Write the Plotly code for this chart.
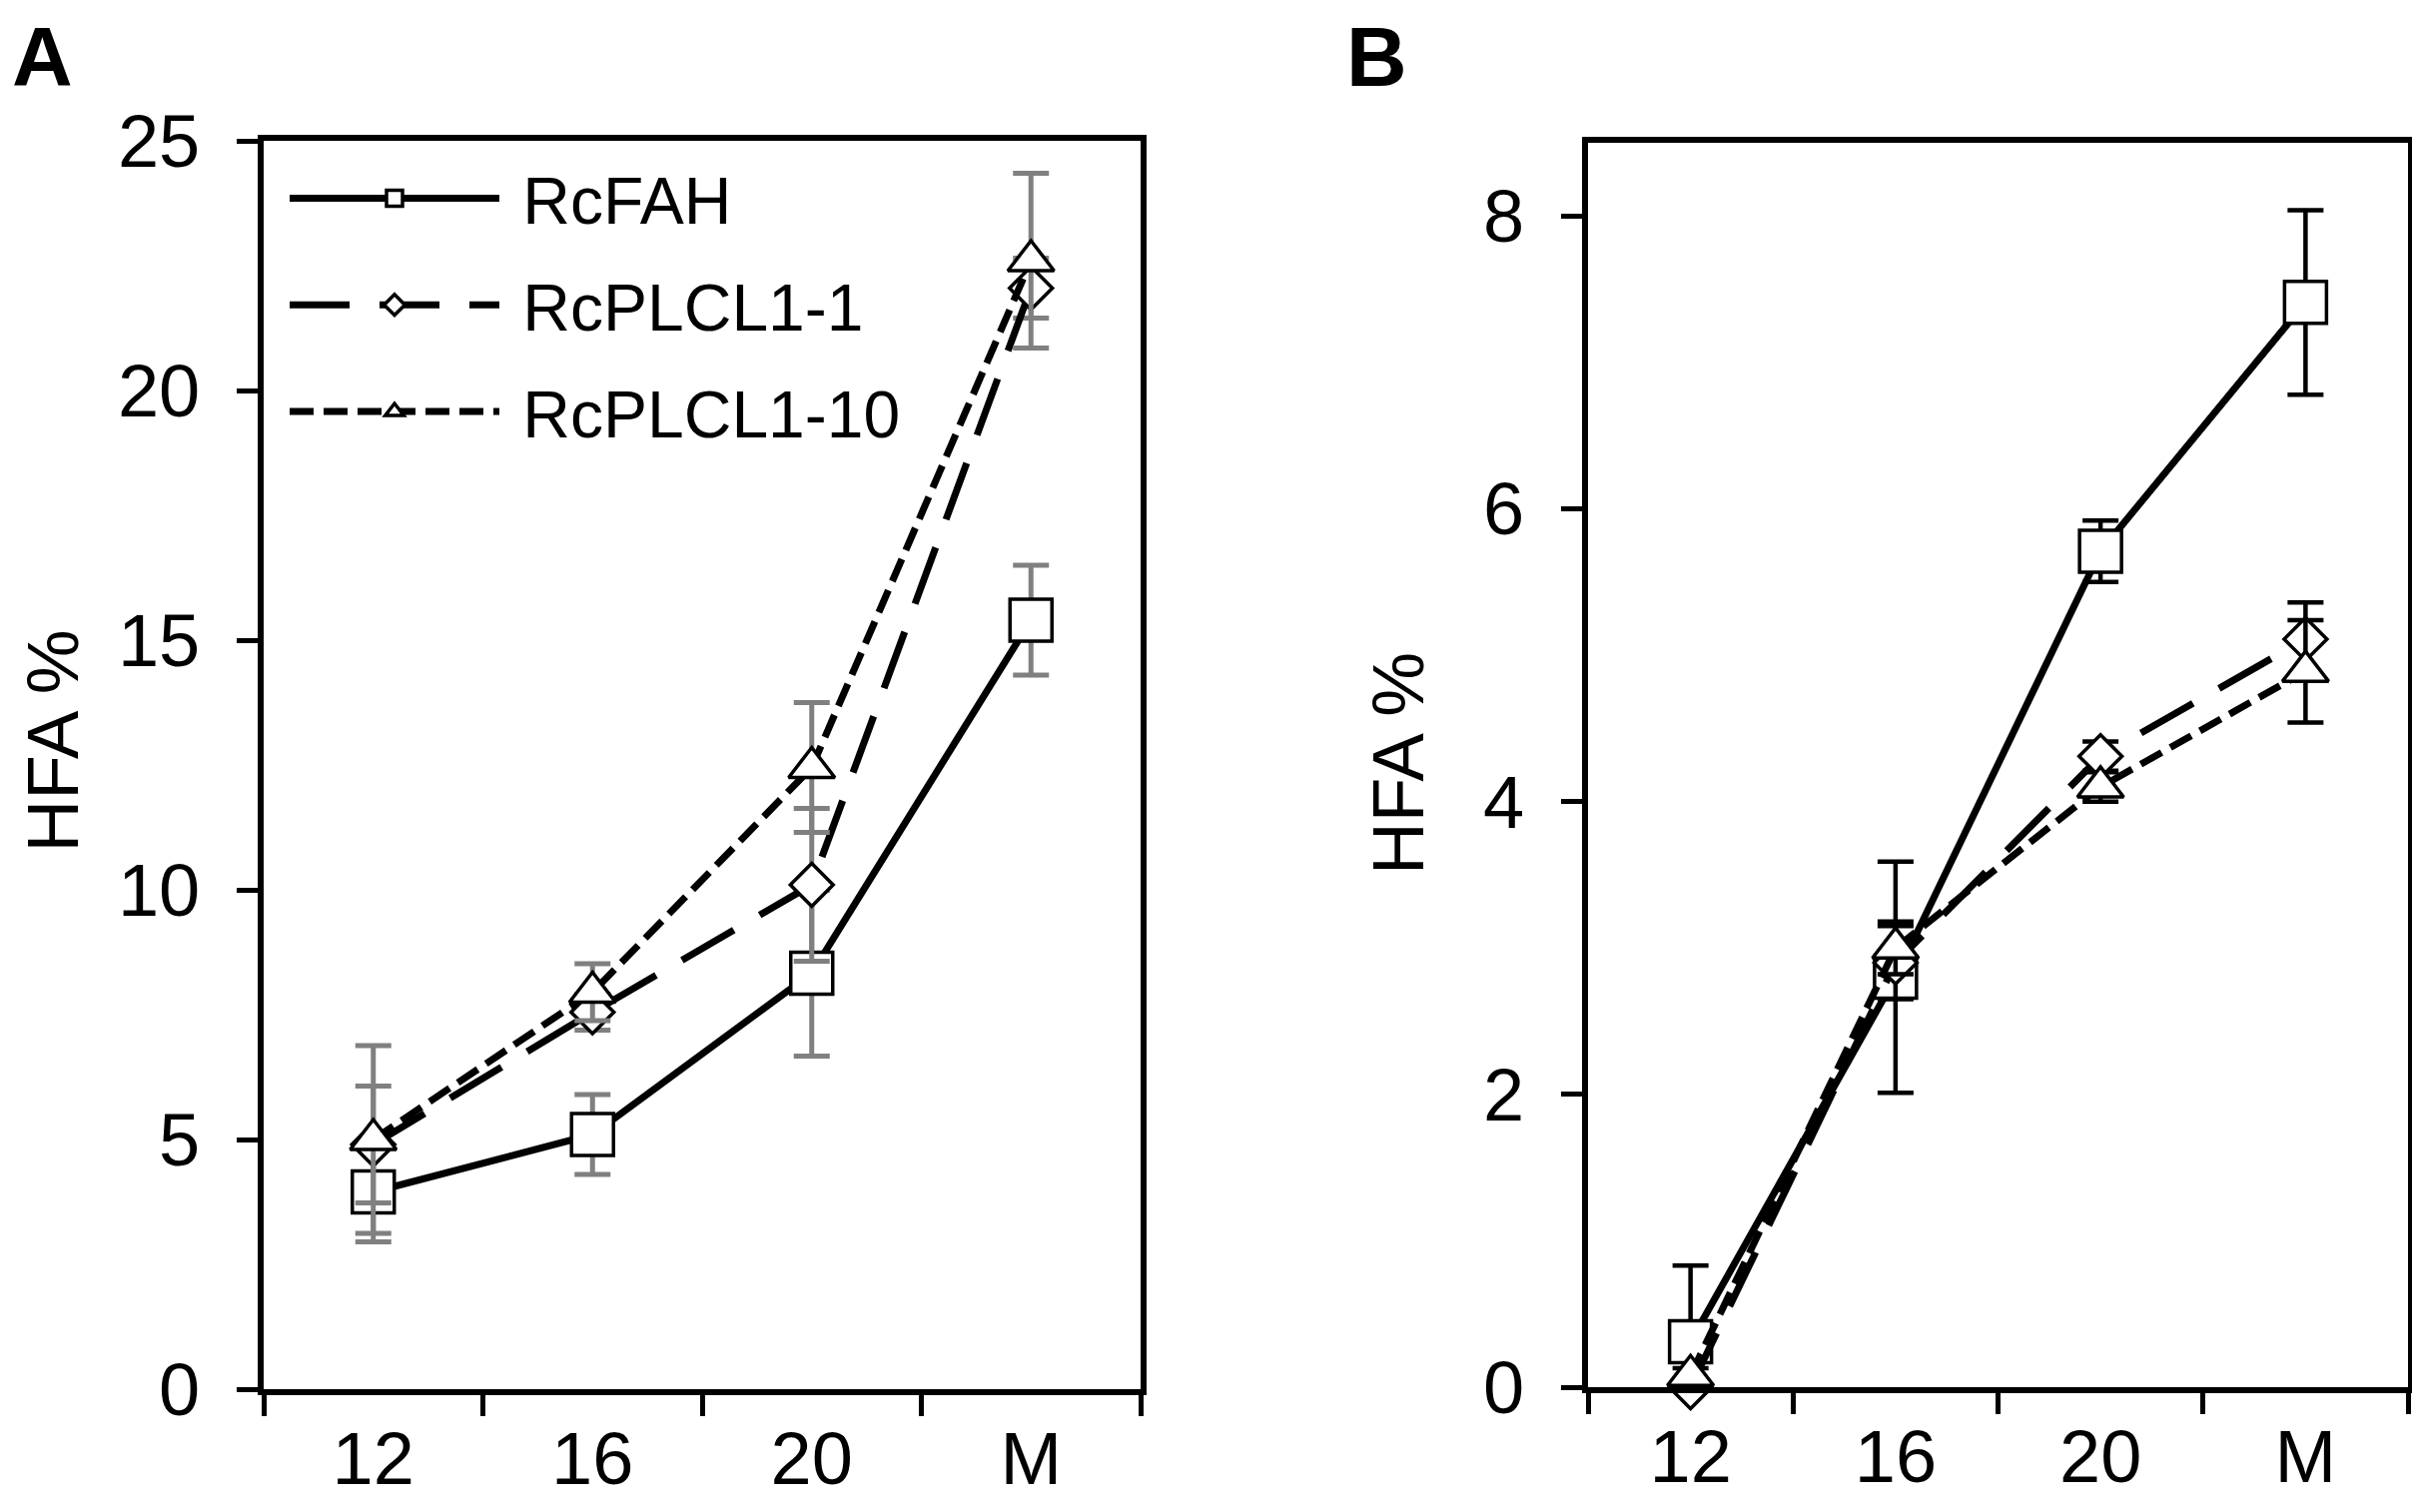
import plotly.graph_objects as go

# Dati (HFA % per stadio)
stages = ["12", "16", "20", "M"]
series_names = ["RcFAH", "RcPLCL1-1", "RcPLCL1-10"]

# Pannello A
fah_a = [3.95, 5.1, 8.33, 15.4]
fah_a_err = [1.0, 0.8, 1.66, 1.1]
plcl1_a = [4.9, 7.55, 10.1, 22.05]
plcl1_a_err = [1.17, 0.36, 1.53, 0.6]
plcl10_a = [5.0, 7.95, 12.45, 22.6]
plcl10_a_err = [1.88, 0.57, 1.3, 1.75]

# Pannello B
fah_b = [0.31, 2.8, 5.71, 7.41]
fah_b_err = [0.52, 0.79, 0.21, 0.63]
plcl1_b = [0.0, 2.9, 4.31, 5.11]
plcl1_b_err = [0.05, 0.25, 0.1, 0.25]
plcl10_b = [0.08, 3.0, 4.1, 4.89]
plcl10_b_err = [0.05, 0.18, 0.1, 0.35]

# Finestra 2423x1514, il body html ha 8px di margine
PAGE_W, PAGE_H = 2423, 1514
PAD = 8
W, H = PAGE_W - 2 * PAD, PAGE_H - 2 * PAD
FONT = "Arial, Liberation Sans, sans-serif"
LINE_W = 7


def px(x):
    """pixel della pagina -> coordinata paper orizzontale"""
    return (x - PAD) / W


def py(y):
    """pixel della pagina -> coordinata paper verticale"""
    return 1 - (y - PAD) / H


# stile per serie: (dash, simbolo, dimensione)
STYLES = [
    ("solid", "square", 42),
    ("60px,30px", "diamond", 33),
    ("24px,10px", "triangle-up", 40),
]


def add_series(fig, y, err, idx, xa, ya, err_color, err_w, showlegend):
    dash, symbol, size = STYLES[idx]
    fig.add_trace(go.Scatter(
        x=stages, y=y, xaxis=xa, yaxis=ya,
        mode="lines+markers",
        # spazio non separabile per staccare il testo dalla linea in legenda
        name="\u00a0" + series_names[idx],
        legendgroup=series_names[idx],
        showlegend=showlegend,
        line=dict(color="black", width=LINE_W, dash=dash),
        marker=dict(symbol=symbol, size=size, color="white",
                    line=dict(color="black", width=3.5)),
        error_y=dict(type="data", array=err, visible=True,
                     color=err_color, thickness=err_w, width=18),
        cliponaxis=(idx == 0),
    ))


fig = go.Figure()

for i, (y, e) in enumerate([(fah_a, fah_a_err), (plcl1_a, plcl1_a_err), (plcl10_a, plcl10_a_err)]):
    add_series(fig, y, e, i, "x", "y", "rgb(128,128,128)", 5, True)

for i, (y, e) in enumerate([(fah_b, fah_b_err), (plcl1_b, plcl1_b_err), (plcl10_b, plcl10_b_err)]):
    add_series(fig, y, e, i, "x2", "y2", "black", 4.5, False)

axis_common = dict(
    showline=True, linewidth=6, linecolor="black", mirror=True,
    ticks="outside", ticklen=21, tickwidth=5, tickcolor="black",
    showgrid=False, zeroline=False, automargin=False,
    tickfont=dict(family=FONT, size=74, color="black"),
)

x_common = dict(axis_common, type="category", range=[-0.5, 3.5],
                tickson="boundaries", ticklabelstandoff=0)
y_common = dict(axis_common, ticklabelstandoff=22)

# titoli asse Y come annotazioni ruotate (posizione come nell'originale)
title_font = dict(family=FONT, size=73, color="black")
y_titles = [
    dict(text="HFA %", x=px(PAD + 1), y=py(742), xanchor="left", textangle=-90),
    dict(text="HFA %", x=px(1400), y=py(765), xanchor="center", textangle=-90),
]
for t in y_titles:
    t.update(xref="paper", yref="paper", yanchor="middle",
             showarrow=False, font=title_font)

# etichette dei pannelli, in alto a sinistra
panel_labels = [
    dict(text="<b>A</b>", x=px(10)),
    dict(text="<b>B</b>", x=px(1346)),
]
for t in panel_labels:
    t.update(y=1, xref="paper", yref="paper", xanchor="left", yanchor="top",
             showarrow=False, font=dict(family=FONT, size=84, color="black"))

fig.update_layout(
    width=W, height=H,
    margin=dict(l=0, r=0, t=0, b=0, autoexpand=False),
    paper_bgcolor="white", plot_bgcolor="white",
    font=dict(family=FONT, color="black"),
    xaxis=dict(x_common, domain=[px(264), px(1142)], anchor="y"),
    yaxis=dict(y_common, domain=[py(1391), py(141)], range=[0, 25], dtick=5, anchor="x"),
    xaxis2=dict(x_common, domain=[px(1590), px(2411)], anchor="y2"),
    yaxis2=dict(y_common, domain=[py(1389), py(143)], range=[0, 8.5], dtick=2, anchor="x2"),
    showlegend=True,
    legend=dict(
        x=px(285), y=py(149), xanchor="left", yanchor="top",
        bgcolor="rgba(0,0,0,0)", borderwidth=0,
        font=dict(family=FONT, size=66, color="black"),
        itemwidth=210, tracegroupgap=18, traceorder="grouped",
    ),
    annotations=y_titles + panel_labels,
)

fig.write_html("out.html")
